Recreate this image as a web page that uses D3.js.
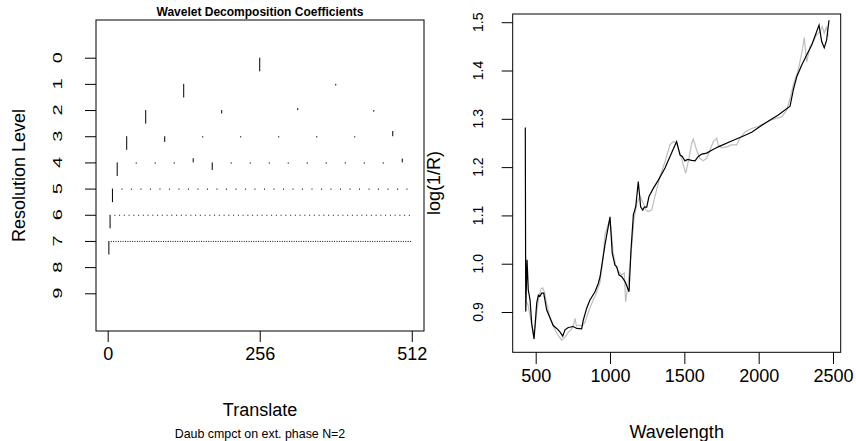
<!DOCTYPE html>
<html>
<head>
<meta charset="utf-8">
<script src="https://cdn.jsdelivr.net/npm/d3@7"></script>
<style>
  body { margin: 0; background: #fff; }
  text { font-family: "Liberation Sans", Arial, Helvetica, sans-serif; fill: #000; }
</style>
</head>
<body>
<div id="chart"></div>
<script>
const width = 856;
const height = 441;

// left panel: wavelet coefficients, one array per resolution level
// (values relative to the biggest coefficient of that level)
const levelLabels = [0, 1, 2, 3, 4, 5, 6, 7, 8, 9];
const translateTicks = [0, 256, 512];
const coefLevel0 = [1];
const coefLevel1 = [1, 0.12];
const coefLevel2 = [1, 0.25, -0.14, 0.12];
const coefLevel3 = [1, 0.42, 0.09, 0.09, 0.09, 0.09, 0.09, -0.38];
const coefLevel4 = [1, 0.09, 0.09, 0.09, -0.31, 0.56, 0.09, 0.09,
  0.09, 0.09, 0.09, 0.09, 0.09, 0.09, 0.09, -0.28];
const coefLevel5 = [1, 0.08, 0.08, 0.08, 0.08, 0.08, 0.08, 0.08,
  0.08, 0.08, 0.08, 0.08, 0.08, 0.08, 0.08, 0.08,
  0.08, 0.08, 0.08, 0.08, 0.08, 0.08, 0.08, 0.08,
  0.08, 0.08, 0.08, 0.08, 0.08, 0.08, 0.08, 0.08];
const coefLevel6 = [1, 0.07, 0.07, 0.07, 0.07, 0.07, 0.07, 0.07,
  0.07, 0.07, 0.07, 0.07, 0.07, 0.07, 0.07, 0.07,
  0.07, 0.07, 0.07, 0.07, 0.07, 0.07, 0.07, 0.07,
  0.07, 0.07, 0.07, 0.07, 0.07, 0.07, 0.07, 0.07,
  0.07, 0.07, 0.07, 0.07, 0.07, 0.07, 0.07, 0.07,
  0.07, 0.07, 0.07, 0.07, 0.07, 0.07, 0.07, 0.07,
  0.07, 0.07, 0.07, 0.07, 0.07, 0.07, 0.07, 0.07,
  0.07, 0.07, 0.07, 0.07, 0.07, 0.07, 0.07, 0.07];
const coefLevel7 = [1, 0.07, 0.07, 0.07, 0.07, 0.07, 0.07, 0.07,
  0.07, 0.07, 0.07, 0.07, 0.07, 0.07, 0.07, 0.07,
  0.07, 0.07, 0.07, 0.07, 0.07, 0.07, 0.07, 0.07,
  0.07, 0.07, 0.07, 0.07, 0.07, 0.07, 0.07, 0.07,
  0.07, 0.07, 0.07, 0.07, 0.07, 0.07, 0.07, 0.07,
  0.07, 0.07, 0.07, 0.07, 0.07, 0.07, 0.07, 0.07,
  0.07, 0.07, 0.07, 0.07, 0.07, 0.07, 0.07, 0.07,
  0.07, 0.07, 0.07, 0.07, 0.07, 0.07, 0.07, 0.07,
  0.07, 0.07, 0.07, 0.07, 0.07, 0.07, 0.07, 0.07,
  0.07, 0.07, 0.07, 0.07, 0.07, 0.07, 0.07, 0.07,
  0.07, 0.07, 0.07, 0.07, 0.07, 0.07, 0.07, 0.07,
  0.07, 0.07, 0.07, 0.07, 0.07, 0.07, 0.07, 0.07,
  0.07, 0.07, 0.07, 0.07, 0.07, 0.07, 0.07, 0.07,
  0.07, 0.07, 0.07, 0.07, 0.07, 0.07, 0.07, 0.07,
  0.07, 0.07, 0.07, 0.07, 0.07, 0.07, 0.07, 0.07,
  0.07, 0.07, 0.07, 0.07, 0.07, 0.07, 0.07, 0.07];
const coefLevels = [coefLevel0, coefLevel1, coefLevel2, coefLevel3,
  coefLevel4, coefLevel5, coefLevel6, coefLevel7];

// right panel: spectrum (grey) and its wavelet reconstruction (black)
const wavelengthTicks = [500, 1000, 1500, 2000, 2500];
const logTicks = [0.9, 1.0, 1.1, 1.2, 1.3, 1.4, 1.5];
const wlOriginal = [431, 448, 465, 482, 495, 509, 522, 536, 547, 559,
  576, 596, 623, 650, 675, 697, 717, 737, 754, 764,
  774, 791, 811, 832, 852, 879, 906, 933, 953, 966,
  980, 993, 1007, 1020, 1040, 1060, 1080, 1096, 1105, 1121,
  1141, 1161, 1181, 1202, 1224, 1242, 1257, 1280, 1302, 1336,
  1370, 1403, 1426, 1448, 1471, 1493, 1509, 1531, 1549, 1560,
  1583, 1605, 1627, 1650, 1672, 1695, 1718, 1728, 1751, 1785,
  1818, 1852, 1874, 1908, 1953, 1997, 2087, 2155, 2188, 2211,
  2233, 2266, 2291, 2307, 2323, 2345, 2367, 2390, 2412, 2428,
  2441, 2457, 2468];
const logOriginal = [0.925, 0.915, 0.888, 0.857, 0.867, 0.904, 0.933, 0.948, 0.950, 0.941,
  0.915, 0.888, 0.867, 0.852, 0.842, 0.848, 0.857, 0.863, 0.873, 0.887,
  0.871, 0.873, 0.871, 0.879, 0.898, 0.919, 0.937, 0.962, 1.012, 1.059,
  1.074, 1.086, 1.074, 1.024, 0.993, 0.983, 0.977, 0.981, 0.921, 0.956,
  1.018, 1.091, 1.126, 1.139, 1.125, 1.111, 1.108, 1.111, 1.139, 1.180,
  1.211, 1.246, 1.253, 1.249, 1.229, 1.204, 1.187, 1.218, 1.249, 1.258,
  1.235, 1.218, 1.213, 1.218, 1.235, 1.253, 1.260, 1.246, 1.240, 1.242,
  1.246, 1.246, 1.260, 1.273, 1.280, 1.284, 1.298, 1.304, 1.318, 1.342,
  1.370, 1.401, 1.438, 1.468, 1.418, 1.449, 1.460, 1.474, 1.480, 1.491,
  1.477, 1.491, 1.470];
const wlSmooth = [430, 433, 442, 450, 462, 473, 489, 507, 518, 529,
  540, 554, 574, 596, 618, 641, 663, 682, 697, 719,
  753, 776, 809, 820, 843, 865, 899, 921, 933, 966,
  1000, 1015, 1033, 1045, 1060, 1079, 1101, 1128, 1141, 1157,
  1173, 1190, 1206, 1220, 1231, 1247, 1262, 1291, 1325, 1370,
  1419, 1448, 1471, 1486, 1504, 1522, 1549, 1572, 1594, 1617,
  1650, 1684, 1728, 1818, 1886, 1953, 2042, 2132, 2211, 2233,
  2256, 2289, 2323, 2357, 2406, 2424, 2441, 2457, 2473];
const logSmooth = [1.282, 0.901, 1.008, 0.946, 0.925, 0.877, 0.844, 0.919, 0.935, 0.933,
  0.939, 0.939, 0.904, 0.888, 0.872, 0.866, 0.859, 0.850, 0.863, 0.868,
  0.870, 0.866, 0.865, 0.883, 0.908, 0.925, 0.942, 0.959, 0.973, 1.039,
  1.097, 1.022, 0.997, 0.994, 0.977, 0.973, 0.963, 0.942, 1.028, 1.101,
  1.118, 1.170, 1.118, 1.111, 1.117, 1.117, 1.139, 1.156, 1.173, 1.198,
  1.233, 1.253, 1.225, 1.222, 1.213, 1.216, 1.214, 1.213, 1.222, 1.227,
  1.229, 1.235, 1.242, 1.254, 1.263, 1.272, 1.291, 1.308, 1.326, 1.360,
  1.387, 1.411, 1.432, 1.453, 1.494, 1.460, 1.447, 1.463, 1.504];

const svg = d3
  .select("#chart")
  .append("svg")
  .attr("width", width)
  .attr("height", height);

// ---------- left panel ----------
const xL = d3.scaleLinear().domain([-19.7, 532.6]).range([96, 424]);
const yL = d3.scaleLinear().domain([-1.44, 10.44]).range([20, 331]);
const halfStep = 0.52;

const segs = [];
coefLevels.forEach((coefs, lev) => {
  const step = 512 / coefs.length;
  coefs.forEach((c, k) => {
    segs.push({ lev: lev, pos: (k + 0.5) * step, c: c });
  });
});

svg
  .append("g")
  .selectAll("line")
  .data(segs)
  .enter()
  .append("line")
  .attr("x1", (d) => xL(d.pos))
  .attr("x2", (d) => xL(d.pos))
  .attr("y1", (d) => yL(d.lev))
  .attr("y2", (d) => yL(d.lev + d.c * halfStep))
  .attr("stroke", "#000")
  .attr("stroke-width", 1);

svg
  .append("rect")
  .attr("x", 96)
  .attr("y", 20)
  .attr("width", 328)
  .attr("height", 311)
  .attr("fill", "none")
  .attr("stroke", "#000");

const xAxisL = d3.axisBottom(xL).tickValues(translateTicks).tickSize(11).tickPadding(5);
const gxL = svg.append("g").attr("transform", "translate(0,331)").call(xAxisL);
gxL.select(".domain").remove();
gxL.selectAll("text").style("font-size", "18px").attr("font-family", null);

const yAxisL = d3.axisLeft(yL).tickValues(levelLabels).tickSize(11).tickFormat("");
const gyL = svg.append("g").attr("transform", "translate(96,0)").call(yAxisL);
gyL.select(".domain").remove();

svg
  .append("g")
  .selectAll("text")
  .data(levelLabels)
  .enter()
  .append("text")
  .attr("transform", (d) => `translate(62.3,${yL(d)}) rotate(-90) scale(1,0.6)`)
  .attr("text-anchor", "middle")
  .style("font-size", "20px")
  .text((d) => d);

svg
  .append("text")
  .attr("x", 260)
  .attr("y", 16)
  .attr("text-anchor", "middle")
  .style("font-size", "12px")
  .style("font-weight", "bold")
  .text("Wavelet Decomposition Coefficients");

svg
  .append("text")
  .attr("x", 260)
  .attr("y", 416)
  .attr("text-anchor", "middle")
  .style("font-size", "18px")
  .text("Translate");

svg
  .append("text")
  .attr("x", 260)
  .attr("y", 438)
  .attr("text-anchor", "middle")
  .style("font-size", "12.4px")
  .text("Daub cmpct on ext. phase N=2");

svg
  .append("text")
  .attr("transform", "translate(25,175.5) rotate(-90)")
  .attr("text-anchor", "middle")
  .style("font-size", "18px")
  .text("Resolution Level");

// ---------- right panel ----------
const xR = d3.scaleLinear().domain([345.3, 2551.8]).range([512.7, 840.7]);
const yR = d3.scaleLinear().domain([0.8166, 1.517]).range([352.3, 14]);

const line = d3
  .line()
  .x((d) => xR(d[0]))
  .y((d) => yR(d[1]));

svg
  .append("path")
  .datum(d3.zip(wlOriginal, logOriginal))
  .attr("d", line)
  .attr("fill", "none")
  .attr("stroke", "#bebebe")
  .attr("stroke-width", 1.2);

svg
  .append("path")
  .datum(d3.zip(wlSmooth, logSmooth))
  .attr("d", line)
  .attr("fill", "none")
  .attr("stroke", "#000")
  .attr("stroke-width", 1.2);

svg
  .append("rect")
  .attr("x", 512.7)
  .attr("y", 14)
  .attr("width", 328)
  .attr("height", 338.3)
  .attr("fill", "none")
  .attr("stroke", "#000");

const xAxisR = d3
  .axisBottom(xR)
  .tickValues(wavelengthTicks)
  .tickFormat(d3.format("d"))
  .tickSize(11.7)
  .tickPadding(5);
const gxR = svg.append("g").attr("transform", "translate(0,352.3)").call(xAxisR);
gxR.select(".domain").remove();
gxR.selectAll("text").style("font-size", "18px").attr("font-family", null);

const yAxisR = d3.axisLeft(yR).tickValues(logTicks).tickSize(11).tickFormat("");
const gyR = svg.append("g").attr("transform", "translate(512.7,0)").call(yAxisR);
gyR.select(".domain").remove();

svg
  .append("g")
  .selectAll("text")
  .data(logTicks)
  .enter()
  .append("text")
  .attr("transform", (d) => `translate(483.3,${yR(d)}) rotate(-90)`)
  .attr("text-anchor", "middle")
  .style("font-size", "14px")
  .text((d) => d3.format(".1f")(d));

svg
  .append("text")
  .attr("x", 676.7)
  .attr("y", 438)
  .attr("text-anchor", "middle")
  .style("font-size", "18px")
  .text("Wavelength");

svg
  .append("text")
  .attr("transform", "translate(440,183) rotate(-90)")
  .attr("text-anchor", "middle")
  .style("font-size", "18px")
  .text("log(1/R)");
</script>
</body>
</html>
